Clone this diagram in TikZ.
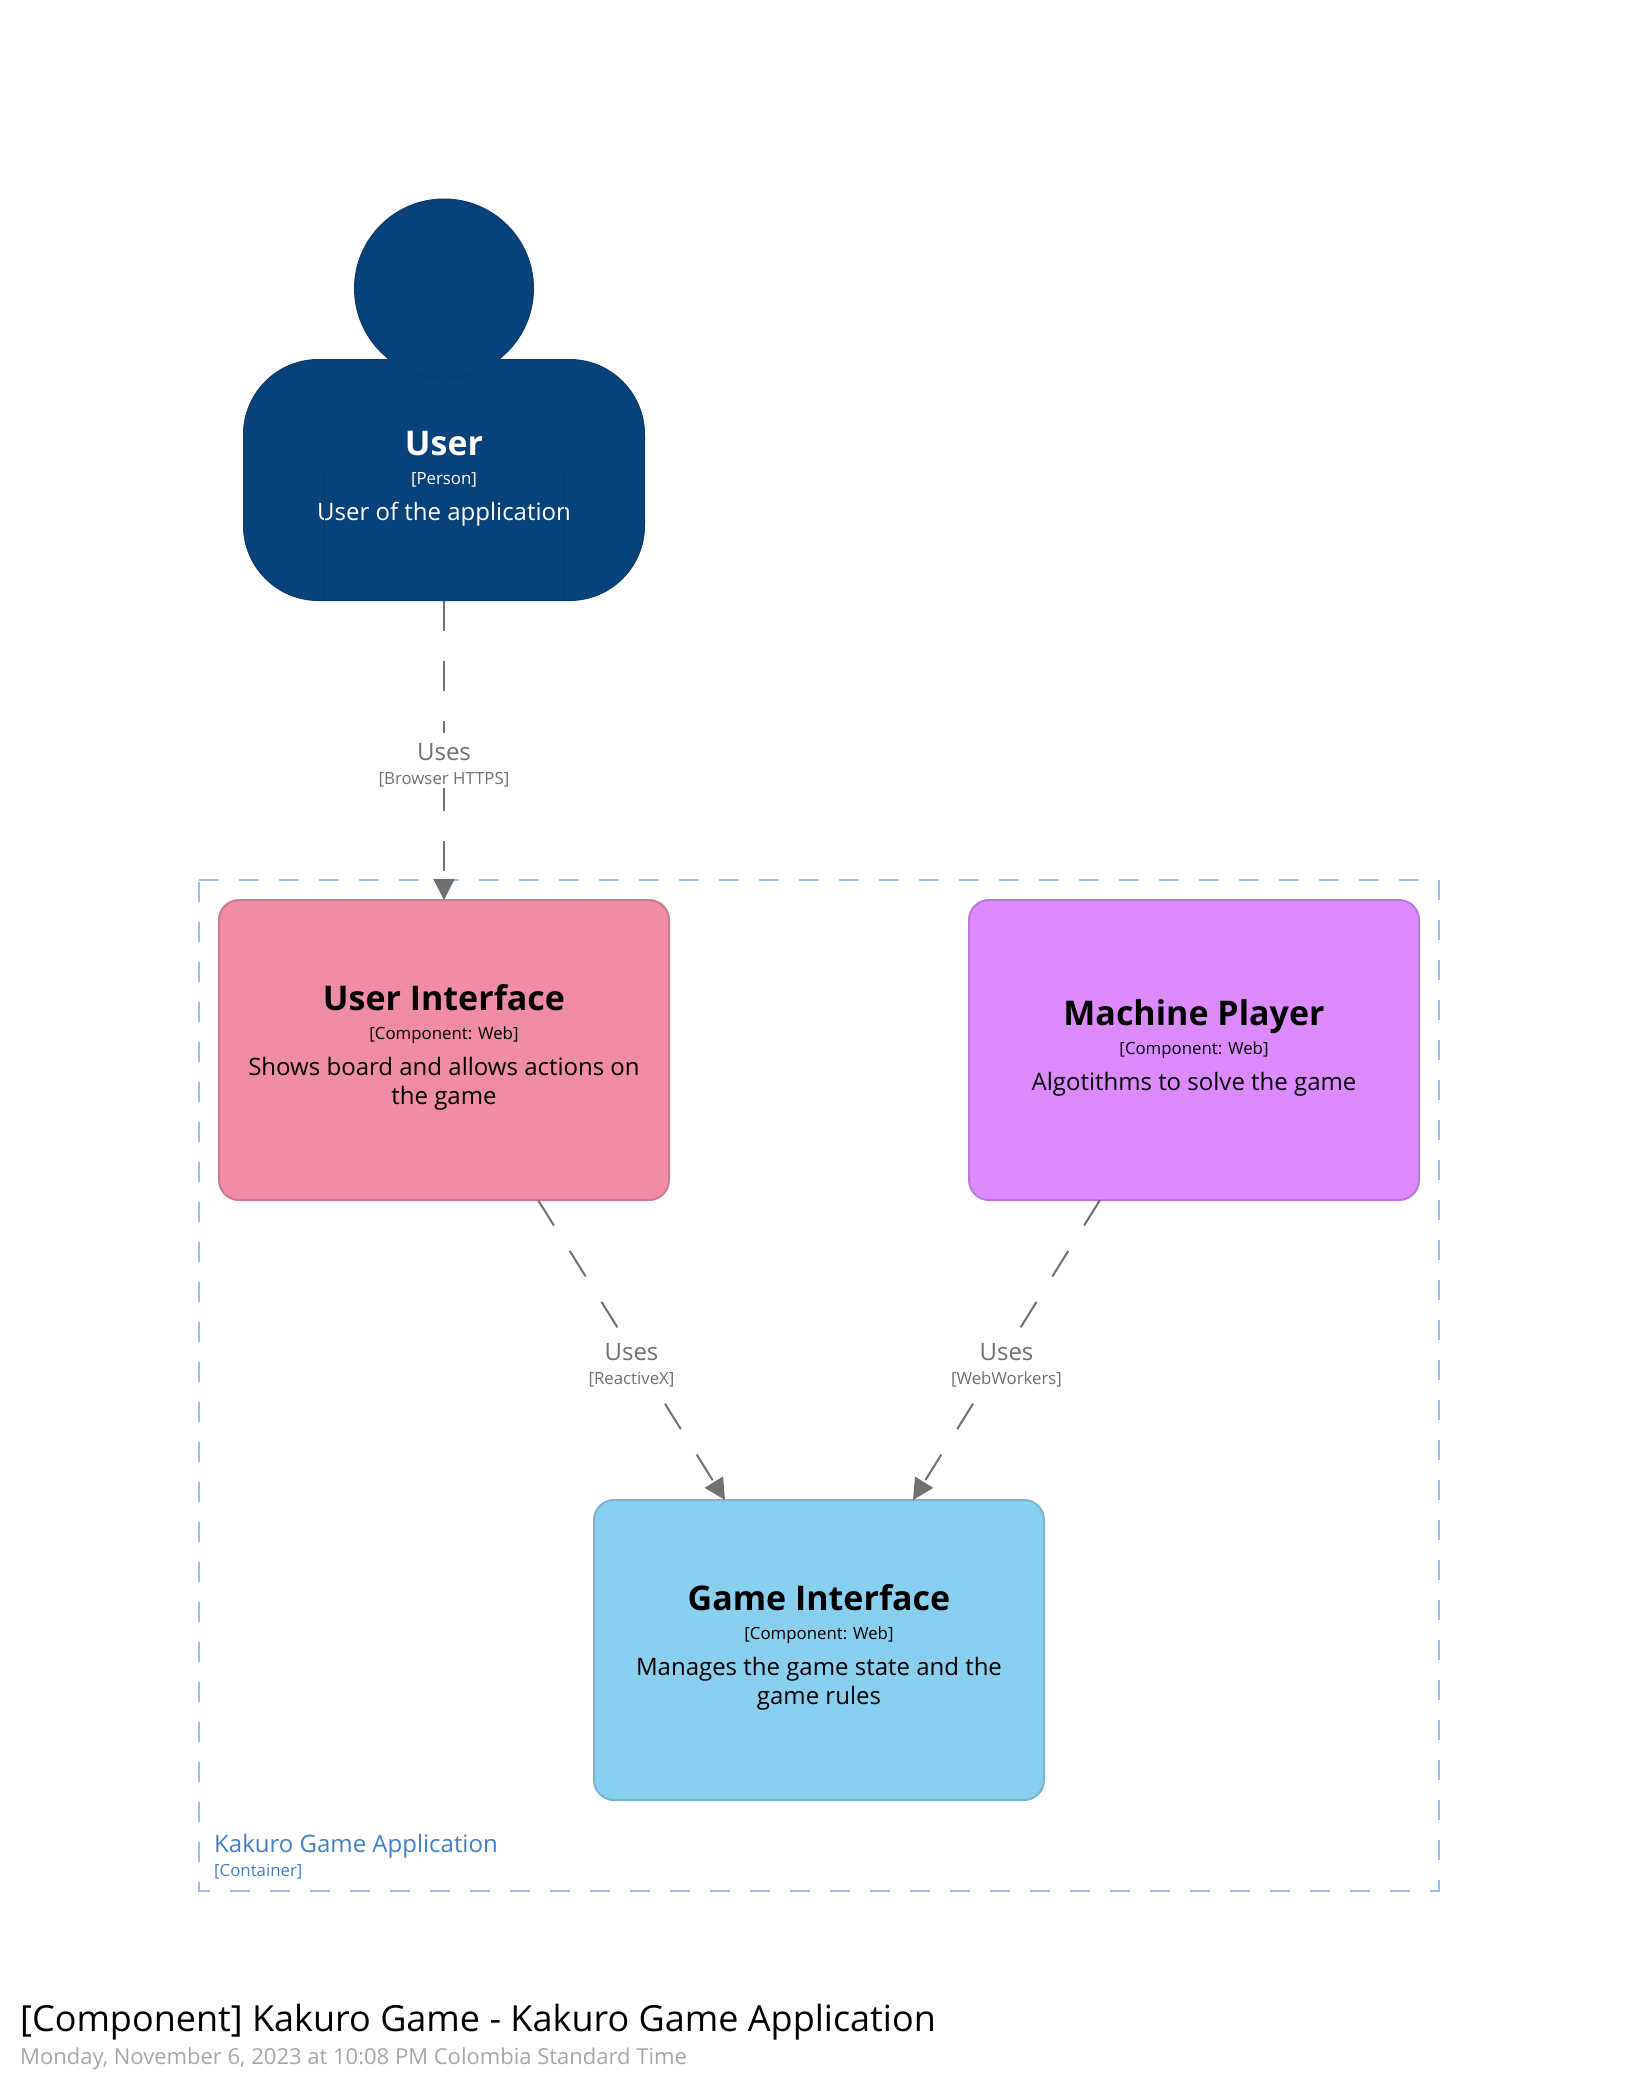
\documentclass[tikz,border=0pt]{standalone}
\usepackage{fontspec}
\setmainfont{Open Sans}
\usetikzlibrary{arrows.meta}
\definecolor{personblue}{HTML}{08427B}
\definecolor{personline}{HTML}{0A3C6C}
\definecolor{uipink}{HTML}{F08CA4}
\definecolor{uiline}{HTML}{CC7A90}
\definecolor{playerviolet}{HTML}{DD8AFF}
\definecolor{playerline}{HTML}{BC76D9}
\definecolor{gameblue}{HTML}{89CFF0}
\definecolor{gameline}{HTML}{78B4D4}
\definecolor{linkgray}{HTML}{707070}
\definecolor{boundaryline}{HTML}{9DBFE3}
\definecolor{boundarytext}{HTML}{3F80C8}
\newcommand{\elname}[1]{{\fontsize{34}{40}\selectfont\bfseries #1}}
\newcommand{\elmeta}[1]{{\fontsize{16.8}{20}\selectfont #1}}
\tikzset{
  boxnode/.style={rectangle,rounded corners=20pt,line width=2pt,outer sep=0pt,
    minimum width=450pt,minimum height=300pt,align=center,text=black,
    font=\fontsize{24}{29}\selectfont},
  uselink/.style={draw=linkgray,line width=2pt,dash pattern=on 30pt off 30pt,
    -{Triangle[length=21pt,width=21pt,inset=0pt]},linkgray},
  linklabel/.style={midway,yshift=-10.5pt,fill=white,inner sep=0pt,align=center,minimum height=55pt,
    text=linkgray,font=\fontsize{24}{29}\selectfont}
}
\begin{document}
\begin{tikzpicture}[x=1pt,y=-1pt]
\useasboundingbox (0,0) rectangle (1640,2091);
% boundary
\node (kakuro) [minimum width=1240pt,minimum height=1011pt,outer sep=0pt] at (819,1385.5) {};
\draw[boundaryline,line width=2pt,dash pattern=on 20pt off 20pt] (kakuro.north west) -- (kakuro.north east)
-- (kakuro.south east) -- (kakuro.south west) -- cycle;
\node (kakuroname) [anchor=west,inner sep=0pt,text=boundarytext,font=\fontsize{24}{29}\selectfont] at (214,1846.3) {Kakuro Game Application};
\node (kakurometa) [anchor=west,inner sep=0pt,text=boundarytext,font=\fontsize{16.8}{20}\selectfont] at (214,1872) {[Container]};
% person
\node (user) [boxnode,rounded corners=75pt,minimum width=401pt,minimum height=241pt,fill=personblue,draw=personline,line width=1pt,text=white] at (444,480)
{\elname{User}\\[0pt]\elmeta{[Person]}\\[7pt]User of the application\rule[-8pt]{0pt}{8pt}};
\draw[personline,line width=1pt] ([xshift=-120pt]user.south) -- ([xshift=-120pt,yshift=133pt]user.south);
\draw[personline,line width=1pt] ([xshift=120pt]user.south) -- ([xshift=120pt,yshift=133pt]user.south);
\node (userhead) [circle,minimum size=179pt,inner sep=0pt,fill=personblue,draw=personline,line width=1pt] at (444,288.5) {};
% components
\node (ui) [boxnode,fill=uipink,draw=uiline] at (444,1050)
{\elname{User Interface}\\[0pt]\elmeta{[Component: Web]}\\[7pt]Shows board and allows actions on\\the game\rule[-11pt]{0pt}{11pt}};
\node (player) [boxnode,fill=playerviolet,draw=playerline] at (1194,1050)
{\elname{Machine Player}\\[0pt]\elmeta{[Component: Web]}\\[7pt]Algotithms to solve the game\rule[-10pt]{0pt}{10pt}};
\node (game) [boxnode,fill=gameblue,draw=gameline] at (819,1650)
{\elname{Game Interface}\\[0pt]\elmeta{[Component: Web]}\\[7pt]Manages the game state and the\\game rules\rule[-11pt]{0pt}{11pt}};
% relationships
\draw[uselink] (user.south) -- (ui.north)
node (usebrowser) [linklabel] {\rule{0pt}{26pt}Uses\\[-5pt]\elmeta{[Browser HTTPS]}};
\draw[uselink] ([xshift=94pt]ui.south) -- ([xshift=-94pt]game.north)
node (usereactive) [linklabel] {\rule{0pt}{26pt}Uses\\[-5pt]\elmeta{[ReactiveX]}};
\draw[uselink] ([xshift=-94pt]player.south) -- ([xshift=94pt]game.north)
node (useworkers) [linklabel] {\rule{0pt}{26pt}Uses\\[-5pt]\elmeta{[WebWorkers]}};
% title
\node (pagetitle) [anchor=west,inner sep=0pt,text=black,font=\fontsize{36}{43}\selectfont] at (20,2022) {[Component] Kakuro Game - Kakuro Game Application};
\node (pagedate) [anchor=west,inner sep=0pt,text=black!35,font=\fontsize{22}{27}\selectfont] at (20,2059) {Monday, November 6, 2023 at 10:08 PM Colombia Standard Time};
\end{tikzpicture}
\end{document}
